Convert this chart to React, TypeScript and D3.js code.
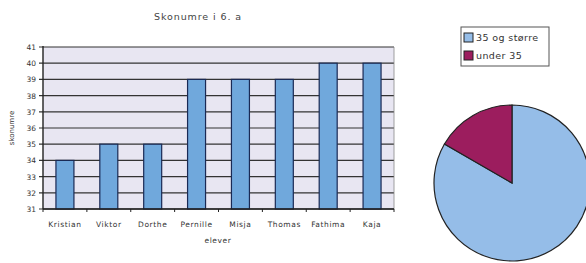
import React from "react";
import * as d3 from "d3";

const names = ["Kristian", "Viktor", "Dorthe", "Pernille", "Misja", "Thomas", "Fathima", "Kaja"];
const sizes = [34, 35, 35, 39, 39, 39, 40, 40];
const yTicks = [31, 32, 33, 34, 35, 36, 37, 38, 39, 40, 41];
const pieLabels = ["35 og større", "under 35"];
const pieValues = [5, 1];
const pieColors = ["#95bde8", "#9c1d5e"];

export default function App() {
  const left = 43, right = 394, top = 47, bottom = 209;
  const x = d3.scaleBand<string>().domain(names).range([left, right]).paddingInner(0.59).paddingOuter(0.295);
  const y = d3.scaleLinear().domain([31, 41]).range([bottom, top]);
  const font = "'DejaVu Sans', Verdana, sans-serif";
  const step = x.step();
  const boundaries = d3.range(names.length + 1).map(i => left + i * step);

  const cx = 512, cy = 183, r = 78;
  const pie = d3.pie<number>().sort(null).startAngle(0).endAngle(2 * Math.PI)(pieValues);
  const arc = d3.arc<d3.PieArcDatum<number>>().innerRadius(0).outerRadius(r);

  return (
    <svg width={586} height={263} style={{ position: "absolute", left: 0, top: 0 }} fontFamily={font}>
      <rect width={586} height={263} fill="#fff" />
      <text x={198} y={20} textAnchor="middle" fontSize={9.5} letterSpacing={0.9} fill="#444">Skonumre i 6. a</text>
      <rect x={left} y={top} width={right - left} height={bottom - top} fill="#e8e6f2" />
      {yTicks.map(t => (
        <g key={t}>
          <line x1={left - 4} x2={right} y1={y(t)} y2={y(t)} stroke="#333" strokeWidth={1.2} />
          <text x={36} y={y(t) + 3} textAnchor="end" fontSize={7.5} fill="#333">{t}</text>
        </g>
      ))}
      <line x1={right} x2={right} y1={top} y2={bottom} stroke="#888" strokeWidth={0.8} />
      {names.map((n, i) => (
        <g key={n}>
          <rect x={x(n)!} y={y(sizes[i])} width={x.bandwidth()} height={bottom - y(sizes[i])} fill="#70a8dc" stroke="#1a2a55" strokeWidth={1.2} />
          <text x={x(n)! + x.bandwidth() / 2} y={227} textAnchor="middle" fontSize={7.5} letterSpacing={0.6} fill="#333">{n}</text>
        </g>
      ))}
      <line x1={left} x2={left} y1={top - 1} y2={bottom} stroke="#222" strokeWidth={1.4} />
      <line x1={left} x2={right} y1={bottom} y2={bottom} stroke="#222" strokeWidth={1.4} />
      {boundaries.map((b, i) => (
        <line key={i} x1={b} x2={b} y1={bottom} y2={bottom + 3} stroke="#222" strokeWidth={1} />
      ))}
      <text x={218} y={243} textAnchor="middle" fontSize={7.5} letterSpacing={0.6} fill="#333">elever</text>
      <text transform={`translate(14,128) rotate(-90)`} textAnchor="middle" fontSize={7} fill="#333">skonumre</text>

      <g transform={`translate(${cx},${cy})`}>
        {pie.map((p, i) => (
          <path key={i} d={arc(p)!} fill={pieColors[i]} stroke="#222" strokeWidth={1.2} />
        ))}
      </g>

      <rect x={461} y={27} width={88} height={39} fill="#fff" stroke="#555" strokeWidth={1} />
      {pieLabels.map((l, i) => (
        <g key={l}>
          <rect x={464} y={33 + i * 18} width={9} height={9} fill={pieColors[i]} stroke="#222" strokeWidth={1} />
          <text x={476} y={41 + i * 18} fontSize={9.5} letterSpacing={0.4} fill="#333">{l}</text>
        </g>
      ))}
    </svg>
  );
}
